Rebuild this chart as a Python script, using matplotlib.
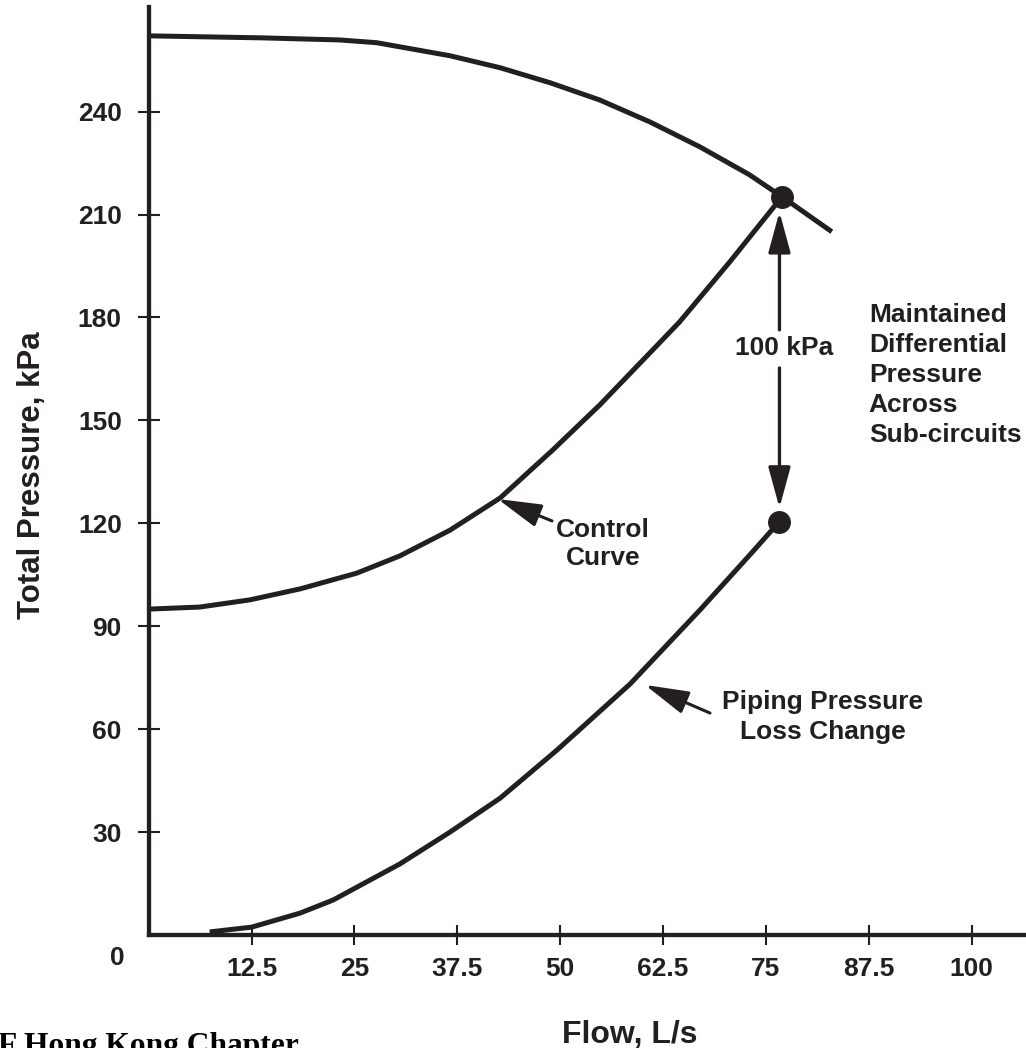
import matplotlib
matplotlib.use('Agg')
import matplotlib.pyplot as plt

plt.rcParams['font.family'] = ['Liberation Sans', 'DejaVu Sans']
plt.rcParams['font.weight'] = 'bold'

INK = '#231f20'

# ---- data ----
pump_flow = [0, 14.0, 23.2, 27.7, 30.5, 36.6, 42.7, 48.8, 54.8, 60.9, 67.0, 73.0, 76.95, 83.0]
pump_pres = [262.1, 261.5, 260.9, 260.1, 258.9, 256.3, 252.8, 248.4, 243.4, 237.0, 229.7, 221.6, 215.2, 205.0]

ctrl_flow = [0, 6.2, 12.3, 18.4, 25.3, 30.5, 36.6, 42.7, 49.1, 54.8, 60.9, 64.5, 70.6, 76.95]
ctrl_pres = [95.0, 95.6, 97.7, 100.9, 105.5, 110.5, 118.0, 127.4, 141.4, 154.5, 169.7, 178.7, 196.2, 215.2]

pipe_flow = [7.4, 12.5, 18.4, 22.4, 30.5, 36.6, 42.7, 49.6, 58.5, 67.0, 73.3, 76.6]
pipe_pres = [0.9, 2.3, 6.4, 10.2, 20.7, 30.0, 39.9, 53.9, 73.2, 94.8, 111.5, 120.4]

dot_flow = [76.9, 76.6]
dot_pres = [215.2, 120.4]

x_ticks = [12.5, 25, 37.5, 50, 62.5, 75, 87.5, 100]
x_labels = ['12.5', '25', '37.5', '50', '62.5', '75', '87.5', '100']
y_ticks = [30, 60, 90, 120, 150, 180, 210, 240]

fig = plt.figure(figsize=(10.26, 10.48), dpi=100)
ax = fig.add_axes([0.1450, 0.1078, 0.8550, 0.8855])
ax.set_xlim(0, 106.6)
ax.set_ylim(0, 270.5)

for s in ['top', 'right']:
    ax.spines[s].set_visible(False)
for s in ['left', 'bottom']:
    ax.spines[s].set_linewidth(3.1)
    ax.spines[s].set_color(INK)

# curves
for fx, py in [(pump_flow, pump_pres), (ctrl_flow, ctrl_pres), (pipe_flow, pipe_pres)]:
    ax.plot(fx, py, color=INK, lw=3.6, solid_capstyle='butt', solid_joinstyle='round',
            clip_on=False)
ax.plot(dot_flow, dot_pres, 'o', color=INK, ms=15.5, zorder=5)

# ticks
ax.set_xticks(x_ticks)
ax.set_xticklabels(x_labels)
ax.set_yticks(y_ticks)
ax.tick_params(axis='x', direction='inout', length=15, width=1.5, color=INK,
               pad=8, labelsize=19, labelcolor=INK)
ax.tick_params(axis='y', direction='inout', length=15.8, width=1.5, color=INK,
               pad=11.5, labelsize=19, labelcolor=INK)
for lab in ax.get_xticklabels() + ax.get_yticklabels():
    lab.set_fontweight('bold')
ax.text(-3.86, -6.7, '0', fontsize=19, fontweight='bold', color=INK,
        ha='center', va='center', clip_on=False)

# 100 kPa double arrow
arr = dict(arrowstyle='-|>,head_length=1.25,head_width=0.34', mutation_scale=20,
           color=INK, lw=2.4, shrinkA=0, shrinkB=0)
ax.annotate('', xy=(76.64, 210.8), xytext=(76.64, 176.4), arrowprops=arr)
ax.annotate('', xy=(76.64, 124.5), xytext=(76.64, 165.3), arrowprops=arr)
ax.text(77.2, 171.1, '100 kPa', fontsize=19, fontweight='bold', color=INK,
        ha='center', va='center')

# pointer arrows
ptr = dict(arrowstyle='-|>,head_length=1.5,head_width=0.4', mutation_scale=18,
           color=INK, lw=2.2, shrinkA=0, shrinkB=0)
ax.annotate('', xy=(42.4, 127.1), xytext=(49.0, 120.7), arrowprops=ptr)
ax.annotate('', xy=(60.3, 72.9), xytext=(68.2, 64.7), arrowprops=ptr)

# multi-line notes, one line at a time
for i, line in enumerate(['Control', 'Curve']):
    ax.annotate(line, xy=(55.2, 118.1), xytext=(0, -20.2 * i), textcoords='offset points',
                fontsize=19, fontweight='bold', color=INK, ha='center', va='center')
for i, line in enumerate(['Piping Pressure', 'Loss Change']):
    ax.annotate(line, xy=(81.9, 67.9), xytext=(0, -21.6 * i), textcoords='offset points',
                fontsize=19, fontweight='bold', color=INK, ha='center', va='center')
for i, line in enumerate(['Maintained', 'Differential', 'Pressure', 'Across', 'Sub-circuits']):
    ax.annotate(line, xy=(87.5, 180.8), xytext=(0, -21.6 * i), textcoords='offset points',
                fontsize=19, fontweight='bold', color=INK, ha='left', va='center',
                annotation_clip=False)

# axis titles
fig.text(40 / 1026, 1 - 475 / 1048, 'Total Pressure, kPa', rotation=90, rotation_mode='anchor',
         ha='center', va='baseline', fontsize=22.5, fontweight='bold', color=INK)
fig.text(562 / 1026, 5 / 1048, 'Flow, L/s', ha='left', va='baseline',
         fontsize=23, fontweight='bold', color=INK)
fig.text(-2 / 1026, -6 / 1048, 'F Hong Kong Chapter', ha='left', va='baseline',
         fontsize=22.7, fontweight='bold', color='black', family='Liberation Serif')

fig.savefig('out.png', dpi=100)
